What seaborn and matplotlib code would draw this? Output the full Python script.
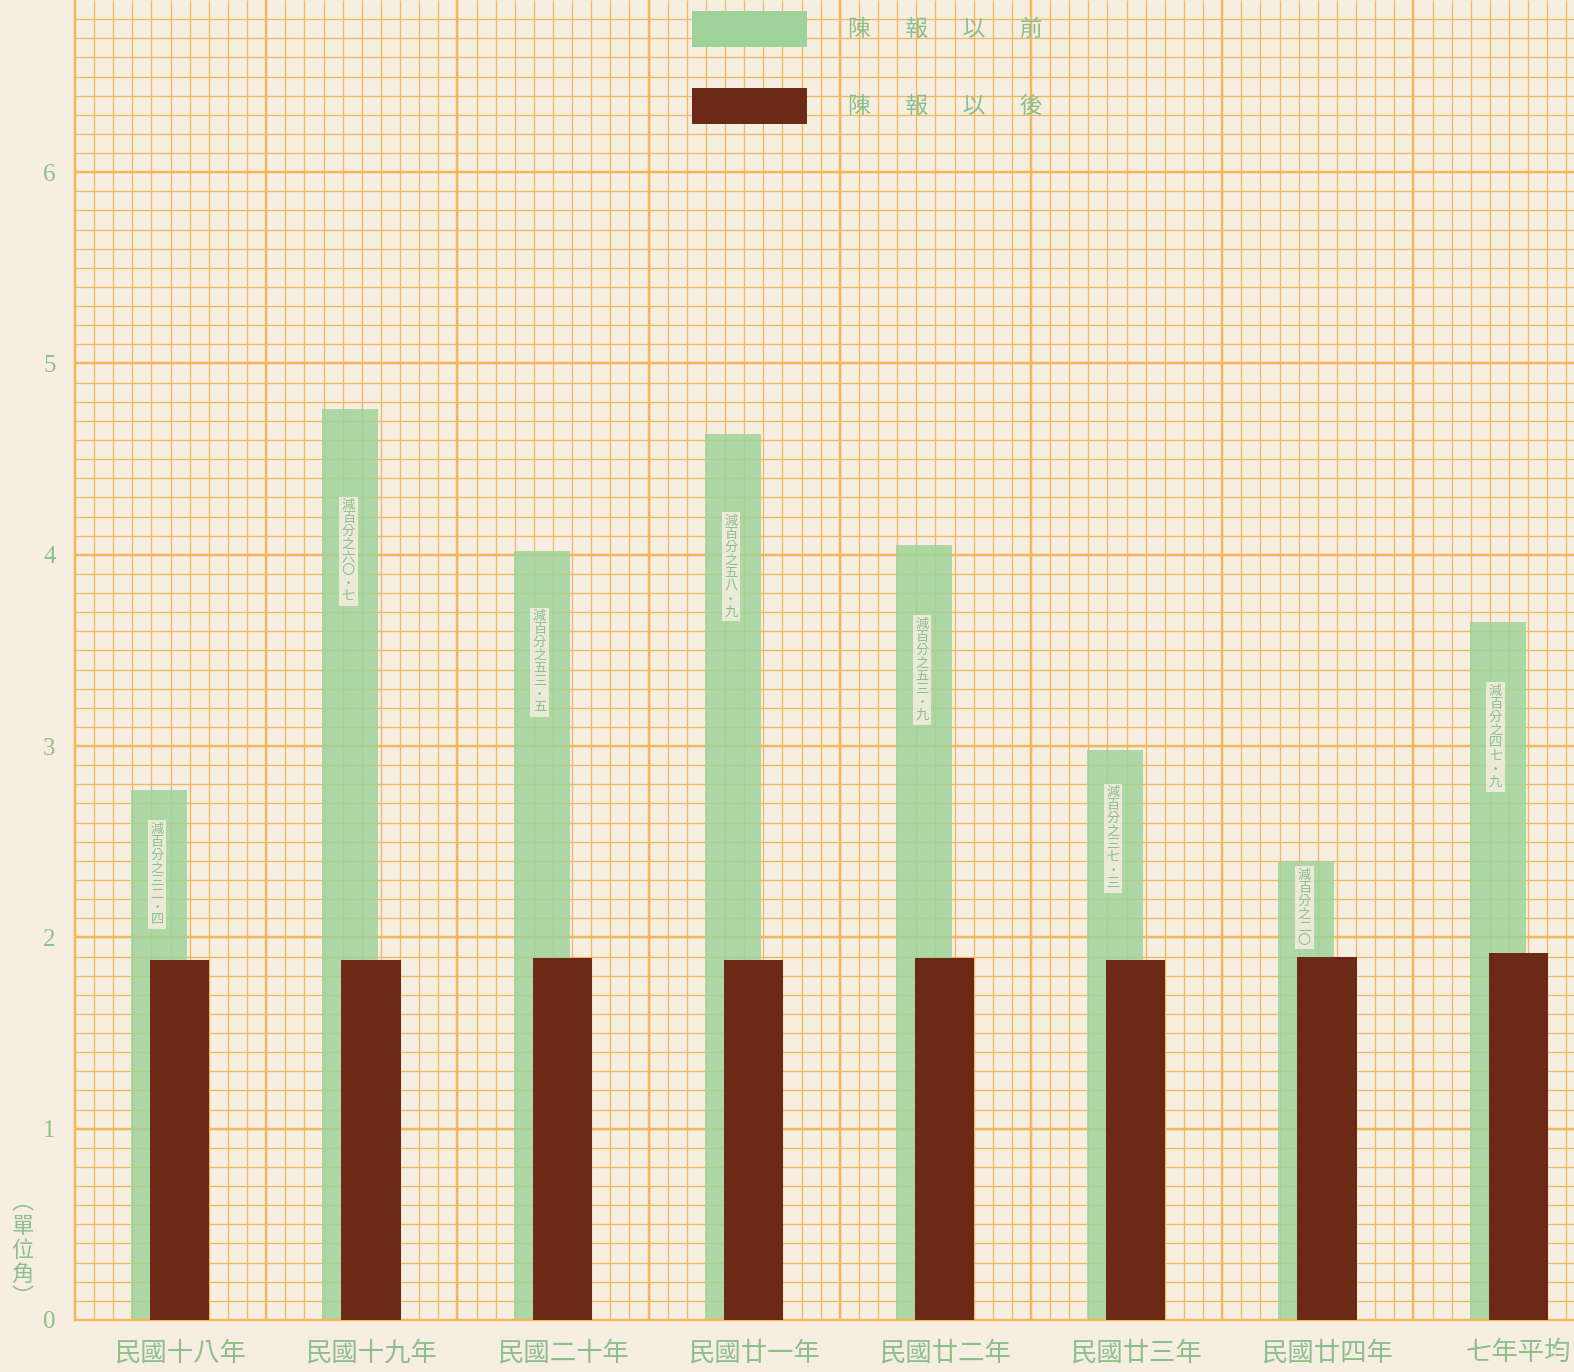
import numpy as np
import matplotlib
matplotlib.use("Agg")
import matplotlib.pyplot as plt
import seaborn as sns
from matplotlib.patches import Patch

years = ["民國十八年", "民國十九年", "民國二十年", "民國廿一年",
         "民國廿二年", "民國廿三年", "民國廿四年", "七年平均"]
before = [2.77, 4.76, 4.02, 4.63, 4.05, 2.98, 2.40, 3.65]
after = [1.88, 1.88, 1.89, 1.88, 1.89, 1.88, 1.90, 1.92]
notes = ["減百分之三二・四", "減百分之六〇・七", "減百分之五三・五", "減百分之五八・九",
         "減百分之五三・九", "減百分之三七・三", "減百分之二〇", "減百分之四七・九"]
legend_labels = ["陳報以前", "陳報以後"]
unit_label = "︵單位角︶"

paper = "#f6eee1"
grid_c = "#f3b65a"
green = "#a0d39a"
brown = "#6c2915"
text_green = "#8cbf8c"

sns.set_theme(style="white")
plt.rcParams["font.family"] = ["Noto Sans CJK TC", "DejaVu Sans"]

fig = plt.figure(figsize=(15.74, 13.72), dpi=100, facecolor=paper)
ax = fig.add_axes([75 / 1574, 52 / 1372, 1499 / 1574, 1320 / 1372])
ax.set_facecolor(paper)

xmax, ymax = 7.84, 6.90

# graph paper
ax.vlines(np.arange(0, xmax, 0.1), 0, ymax, color=grid_c, lw=0.9, zorder=0)
ax.hlines(np.arange(0, ymax, 0.1), 0, xmax, color=grid_c, lw=0.9, zorder=0)
ax.vlines(np.arange(1, 8), 0, ymax, color=grid_c, lw=1.7, zorder=0)
ax.hlines(np.arange(1, 7), 0, xmax, color=grid_c, lw=1.7, zorder=0)

idx = np.arange(len(years))
sns.barplot(x=idx + 0.44, y=before, native_scale=True, width=0.293, color=green,
            saturation=1, errorbar=None, alpha=0.85, linewidth=0, zorder=2, ax=ax)
sns.barplot(x=idx + 0.548, y=after, native_scale=True, width=0.31, color=brown,
            saturation=1, errorbar=None, linewidth=0, zorder=3, ax=ax)

# vertical notes inside the green bars
note_gap = [0.17, 0.47, 0.31, 0.42, 0.38, 0.19, 0.04, 0.33]
for i, note in enumerate(notes):
    ax.text(i + 0.43, before[i] - note_gap[i], "\n".join(note), ha="center", va="top",
            fontsize=9.5, color=text_green, linespacing=1.0, zorder=4,
            bbox=dict(boxstyle="square,pad=0.2", fc=paper, ec="none", alpha=0.85))

ax.set_xlim(0, xmax)
ax.set_ylim(0, ymax)
ax.set_xticks(idx + 0.55, labels=years)
ax.set_yticks(range(7), labels=[str(v) for v in range(7)])
ax.tick_params(axis="x", length=0, pad=14, labelsize=19, labelcolor=text_green)
ax.tick_params(axis="y", length=0, pad=14, labelsize=18, labelcolor=text_green)
for lab in ax.get_yticklabels():
    lab.set_fontfamily(["Liberation Serif", "DejaVu Serif"])
ax.set_xlabel("")
ax.set_ylabel("")

for side in ["top", "right"]:
    ax.spines[side].set_visible(False)
for side in ["left", "bottom"]:
    ax.spines[side].set_color(grid_c)
    ax.spines[side].set_linewidth(1.7)

ax.text(-0.035, 0.053, "\n".join(unit_label), transform=ax.transAxes, ha="center",
        va="center", fontsize=16, color=text_green, linespacing=1.05)

handles = [Patch(facecolor=green, edgecolor="none"), Patch(facecolor=brown, edgecolor="none")]
labels = ["\u3000\u2002".join(t) for t in legend_labels]
leg = ax.legend(handles, labels, loc="upper left", bbox_to_anchor=(0.4116, 0.992),
                frameon=False, fontsize=16.5, handlelength=5.0, handleheight=2.1,
                handletextpad=1.8, labelspacing=1.75, borderpad=0, borderaxespad=0)
for t in leg.get_texts():
    t.set_color(text_green)

fig.savefig("out.png", dpi=100, facecolor=paper)
